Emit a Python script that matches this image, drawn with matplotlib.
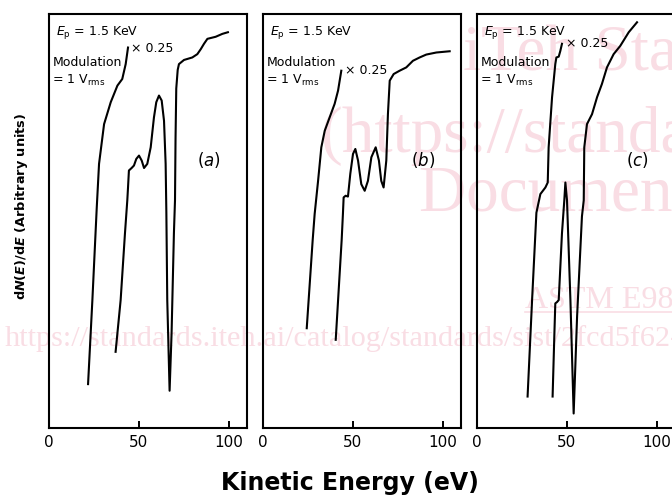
import matplotlib
matplotlib.use("Agg")
import matplotlib.pyplot as plt
from matplotlib.lines import Line2D

# ---------------- data ----------------
x_ticks = [0, 50, 100]
panel_labels = ["a", "b", "c"]

# panel (a)
a_scaled_x = [21.7, 24.1, 26.5, 27.8, 30.6, 34.3, 38.0, 40.7, 42.6, 43.9]
a_scaled_y = [10.6, 30.9, 53.0, 63.8, 73.4, 78.7, 82.7, 84.3, 87.9, 91.9]
a_main_x = [37.0, 39.8, 42.2, 43.5, 43.9, 44.4, 45.9, 47.2, 48.5, 50.0, 51.5, 52.8,
            54.6, 56.5, 58.3, 59.6, 61.1, 62.6, 63.9, 64.8, 65.2, 65.7, 67.0, 68.1,
            69.4, 70.0, 70.3, 70.7, 71.5, 72.2, 75.0, 79.6, 82.4, 84.3, 86.1, 88.0,
            92.6, 96.3, 99.4]
a_main_y = [18.4, 30.9, 47.0, 55.0, 58.1, 62.2, 62.8, 63.4, 65.0, 65.8, 64.6, 62.8,
            63.8, 67.8, 75.0, 78.7, 80.3, 79.1, 74.2, 63.8, 52.0, 30.9, 9.0, 22.9,
            47.1, 55.0, 70.0, 82.0, 86.5, 87.9, 88.9, 89.5, 90.3, 91.5, 92.8, 94.0,
            94.5, 95.2, 95.6]

# panel (b)
b_scaled_x = [24.3, 27.6, 28.7, 30.6, 32.4, 34.3, 37.0, 39.8, 41.7, 43.5]
b_scaled_y = [24.1, 45.4, 51.7, 59.7, 67.8, 71.8, 75.0, 78.3, 81.5, 86.3]
b_main_x = [40.4, 43.7, 44.4, 44.8, 45.9, 47.2, 48.5, 50.0, 51.3, 52.8, 54.6, 56.5,
            58.3, 60.2, 62.6, 64.4, 65.7, 67.0, 68.5, 69.4, 70.4, 72.6, 75.9, 79.6,
            83.3, 87.0, 90.7, 96.3, 103.7]
b_main_y = [21.3, 45.4, 51.7, 55.7, 56.1, 55.9, 61.4, 66.2, 67.4, 64.6, 58.9, 57.3,
            59.7, 65.4, 67.8, 64.6, 59.7, 58.1, 64.6, 75.8, 83.9, 85.5, 86.3, 87.1,
            88.7, 89.5, 90.2, 90.7, 91.0]

# panel (c)
c_scaled_x = [28.1, 30.6, 33.0, 35.2, 38.0, 39.3, 39.8, 41.7, 43.5, 44.1, 45.4, 46.3, 47.2]
c_scaled_y = [7.6, 30.9, 52.0, 56.5, 58.1, 59.3, 67.8, 79.9, 87.9, 89.5, 89.7, 91.1, 92.8]
c_main_x = [42.0, 43.0, 43.5, 44.4, 45.4, 47.2, 48.5, 49.1, 50.0, 51.9, 53.7, 55.6,
            58.3, 59.3, 59.6, 61.1, 63.9, 66.7, 69.4, 72.2, 75.9, 79.6, 84.3, 88.9]
c_main_y = [7.6, 22.9, 30.1, 30.4, 30.9, 47.0, 55.0, 59.3, 55.0, 30.9, 3.5, 26.9,
            51.1, 55.0, 67.8, 73.4, 75.8, 79.9, 83.1, 87.1, 90.3, 92.3, 95.6, 98.0]

# label anchor positions inside each panel (data units): x0.25 label
scale_label_xy = [(45.6, 90.9), (45.4, 85.5), (49.6, 92.0)]

# ---------------- figure ----------------
W, H = 672, 496
fig = plt.figure(figsize=(W / 100, H / 100), dpi=100)
fig.patch.set_facecolor("white")

# watermark (behind everything)
wm_color = "#f9dde4"
wm = [
    ("iTeh Standards", 463, 70, 47),
    ("(https://standards.iteh.ai)", 320, 152, 47),
    ("Document Preview", 419, 211, 47),
    ("ASTM E984", 525, 308, 23),
    ("https://standards.iteh.ai/catalog/standards/sist/2fcd5f62-", 5, 346, 21.8),
]
for txt, xp, yp, fs in wm:
    fig.text(xp / W, 1 - yp / H, txt, fontsize=fs, family="Liberation Serif",
             color=wm_color, ha="left", va="baseline", zorder=-5)
fig.add_artist(Line2D([525 / W, 1.0], [1 - 312 / H, 1 - 312 / H],
                      color=wm_color, lw=1.2, zorder=-5))

lefts = [49, 263, 477]
top, bottom, width = 14, 428, 198
curves = [
    (a_scaled_x, a_scaled_y, a_main_x, a_main_y),
    (b_scaled_x, b_scaled_y, b_main_x, b_main_y),
    (c_scaled_x, c_scaled_y, c_main_x, c_main_y),
]

for i, left in enumerate(lefts):
    ax = fig.add_axes([left / W, 1 - bottom / H, width / W, (bottom - top) / H])
    ax.set_facecolor("none")
    sx, sy, mx, my = curves[i]
    ax.plot(sx, sy, color="black", lw=1.5, solid_joinstyle="round")
    ax.plot(mx, my, color="black", lw=1.5, solid_joinstyle="round")
    ax.set_xlim(0, 110)
    ax.set_ylim(0, 100)
    ax.set_xticks(x_ticks)
    ax.set_yticks([])
    ax.tick_params(axis="x", direction="in", length=5, width=1.4,
                   labelsize=11, pad=5, colors="black")
    for sp in ax.spines.values():
        sp.set_linewidth(1.5)
    ax.text(4.1, 95.0, r"$E_{\mathrm{p}}$ = 1.5 KeV", fontsize=9,
            ha="left", va="baseline")
    ax.text(1.9, 87.4, "Modulation", fontsize=9, ha="left", va="baseline")
    ax.text(1.9, 83.2, r"= 1 V$_{\mathrm{rms}}$", fontsize=9, ha="left", va="baseline")
    lx, ly = scale_label_xy[i]
    ax.text(lx, ly, "\u00d7 0.25", fontsize=9, ha="left", va="baseline")
    ax.text(89, 64.7, "(" + r"$\mathit{%s}$" % panel_labels[i] + ")",
            fontsize=12, ha="center", va="center")

fig.text(22 / W, 1 - 206 / H,
         r"d$\mathbfit{N}$($\mathbfit{E}$)/d$\mathbfit{E}$ (Arbitrary units)",
         rotation=90, ha="center", va="center", fontsize=9.3, fontweight="bold")
fig.text(350 / W, 1 - 490 / H, "Kinetic Energy (eV)", ha="center", va="baseline",
         fontsize=17, fontweight="bold")

fig.savefig("out.png", dpi=100)
